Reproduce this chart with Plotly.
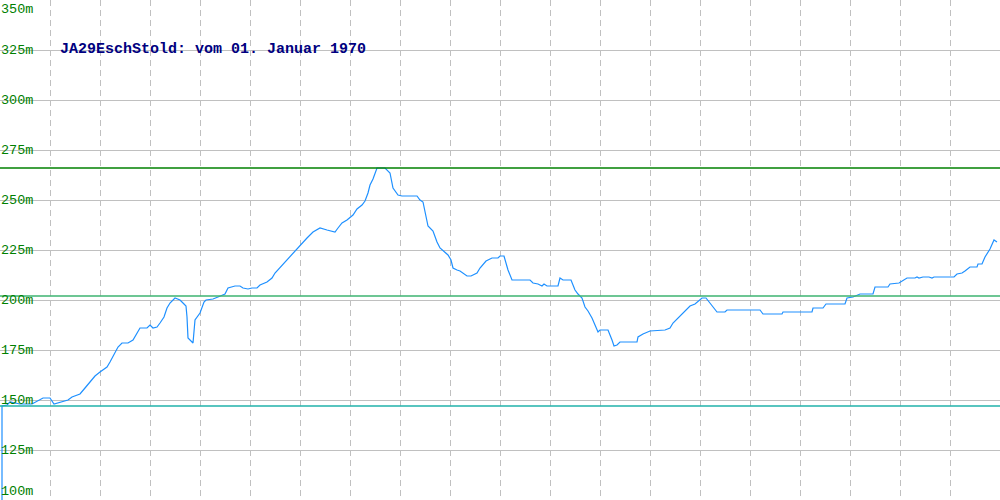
import plotly.graph_objects as go

# ---- data (x = day index, elevation in metres) ----
x_days = [2, 2, 7, 10, 20, 32, 43, 50, 54, 60, 68, 72, 80, 85, 90, 95, 100, 107, 110, 115,
          118, 122, 128, 133, 137, 140, 147, 150, 153, 157, 160, 164, 167, 170, 175, 180,
          184, 186, 187, 188, 193, 195, 200, 204, 206, 213, 218, 225, 228, 235, 240, 243,
          248, 252, 257, 260, 267, 272, 275, 283, 290, 297, 300, 307, 313, 320, 327, 335,
          338, 342, 347, 353, 357, 362, 365, 368, 370, 373, 377, 385, 390, 392, 393, 398,
          402, 417, 420, 423, 427, 428, 433, 437, 440, 445, 448, 451, 453, 457, 460, 467,
          471, 477, 480, 486, 492, 498, 500, 504, 508, 512, 530, 533, 538, 542, 544, 547,
          558, 560, 563, 571, 575, 578, 582, 585, 588, 592, 595, 598, 600, 608, 612, 614,
          617, 620, 637, 638, 643, 650, 665, 670, 673, 690, 695, 702, 706, 710, 717, 725,
          727, 760, 763, 782, 783, 812, 813, 823, 826, 845, 847, 853, 860, 873, 875, 888,
          890, 899, 902, 907, 915, 917, 919, 923, 929, 932, 934, 954, 957, 962, 965, 970,
          977, 978, 982, 985, 990, 993, 994, 997]
elevation = [100, 147, 147.5, 149, 148, 148, 151, 151, 148, 149, 150, 151.5, 153, 156, 159,
             162, 164, 166.5, 169, 174, 176.5, 178.5, 178.5, 180, 183.5, 186, 186, 187.5,
             186, 186.5, 188.5, 191.5, 196, 198.5, 201, 200, 198, 197, 191.5, 181, 178.5,
             190, 193.5, 199, 200, 200.5, 201.5, 203, 206, 207, 207, 206, 205.5, 206, 206,
             207.5, 209, 211, 213.5, 218, 222, 225.5, 227.5, 231, 234, 236, 235, 234, 236,
             238.5, 240, 242.5, 245.5, 247.5, 249.5, 253.5, 257.5, 260.5, 266, 266, 263.5,
             258.5, 256, 252.5, 252, 252, 250, 249, 240, 237, 234.5, 229, 226, 223.5, 222.5,
             220, 216, 215, 214.5, 212, 212, 213.5, 216, 219.5, 221, 221, 222, 222, 215, 210,
             210, 208.5, 208, 207, 208, 207, 207, 211, 210, 210, 205, 203, 201, 196.5, 194.5,
             191, 187, 184, 185, 185, 180, 177, 177.5, 179, 179, 181.5, 183, 184.5, 185, 186,
             188.5, 197, 198, 201, 201, 198.5, 194, 194, 195, 195, 193, 193, 194, 194, 196,
             196, 198, 198, 201, 201.5, 203, 203, 206.5, 206.5, 208, 208.5, 209.5, 211, 211,
             211.5, 211, 211.5, 211.5, 211, 211.5, 211.5, 213, 213.5, 214.5, 216.5, 216.5,
             218, 218, 221.5, 225.5, 229, 230, 229]

ref_levels = [266, 202, 147]
ref_colors = ["#008000", "#3cb371", "#20b2aa"]
y_ticks = [100, 125, 150, 175, 200, 225, 250, 275, 300, 325, 350]
y_tick_labels = [f"{v}m" for v in y_ticks]
title_text = "JA29EschStold: vom 01. Januar 1970"

fig = go.Figure()
fig.add_trace(go.Scatter(x=x_days, y=elevation, mode="lines",
                         line=dict(color="#1e90ff", width=1.2), hoverinfo="skip"))

for lvl, col in zip(ref_levels, ref_colors):
    fig.add_hline(y=lvl, line=dict(color=col, width=1.3), layer="above")

for v, lab in zip(y_ticks, y_tick_labels):
    if v == 350:
        ya, ys = "top", -1
    elif v == 100:
        ya, ys = "bottom", 0
    else:
        ya, ys = "middle", 0
    fig.add_annotation(x=0, xref="paper", y=v, yref="y", text=lab, showarrow=False,
                       xanchor="left", yanchor=ya, yshift=ys, borderpad=0,
                       font=dict(family="Liberation Mono, DejaVu Sans Mono, monospace",
                                 size=13.5, color="#008000"))

fig.add_annotation(x=58, xref="x", y=325.5, yref="y", text=f"<b>{title_text}</b>",
                   showarrow=False, xanchor="left", yanchor="middle",
                   font=dict(family="Liberation Mono, DejaVu Sans Mono, monospace",
                             size=15, color="#000080"))

fig.update_layout(
    width=1000, height=500,
    margin=dict(l=0, r=0, t=0, b=0),
    paper_bgcolor="white", plot_bgcolor="white",
    showlegend=False,
    xaxis=dict(range=[0, 1000], dtick=50, tick0=0, showticklabels=False,
               showgrid=True, gridcolor="#c0c0c0", griddash="6px,4px", gridwidth=1,
               zeroline=False, showline=False, ticks=""),
    yaxis=dict(range=[100, 350], dtick=25, tick0=100, showticklabels=False,
               showgrid=True, gridcolor="#c0c0c0", gridwidth=1,
               zeroline=False, showline=True, linecolor="#c0c0c0", linewidth=2,
               ticks=""),
)

fig.write_html("out.html", config={"displayModeBar": False},
               post_script="document.body.style.margin='0';")
